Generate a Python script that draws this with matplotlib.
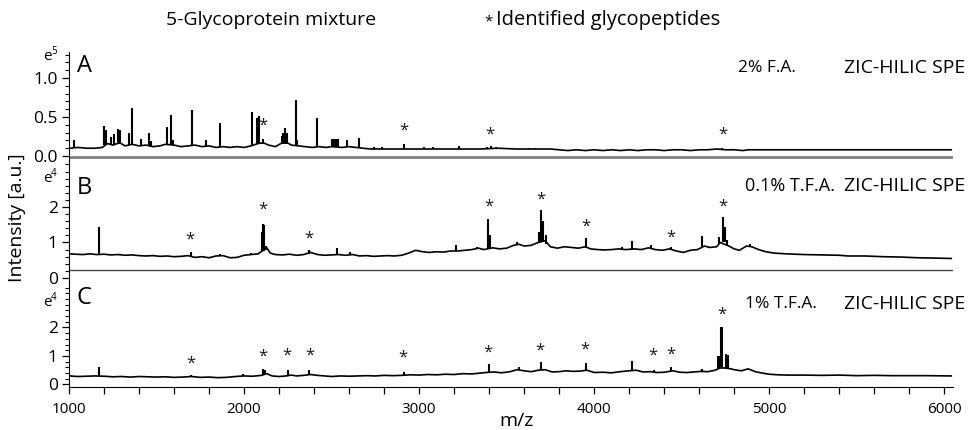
import numpy as np
import matplotlib
matplotlib.use("Agg")
import matplotlib.pyplot as plt
from matplotlib.ticker import MultipleLocator, FixedLocator

plt.rcParams['font.family'] = ['Open Sans', 'DejaVu Sans']

# ---- panel A : 2% F.A. (x1e5) ----
base_a = [(1005, 0.10), (1050, 0.11), (1100, 0.10), (1150, 0.10), (1190, 0.11), (1220, 0.16),
          (1250, 0.14), (1290, 0.17), (1320, 0.13), (1360, 0.15), (1400, 0.13), (1440, 0.14),
          (1480, 0.12), (1520, 0.13), (1550, 0.15), (1600, 0.14), (1640, 0.12), (1680, 0.13),
          (1720, 0.14), (1760, 0.12), (1800, 0.13), (1840, 0.11), (1880, 0.12), (1920, 0.11),
          (1960, 0.12), (2000, 0.11), (2040, 0.13), (2080, 0.16), (2110, 0.17), (2140, 0.14),
          (2180, 0.12), (2210, 0.16), (2240, 0.18), (2270, 0.14), (2310, 0.13), (2350, 0.12),
          (2390, 0.11), (2430, 0.12), (2470, 0.11), (2500, 0.12), (2560, 0.11), (2600, 0.12),
          (2640, 0.11), (2680, 0.10), (2720, 0.09), (2800, 0.09), (2900, 0.09), (2950, 0.09),
          (3050, 0.09), (3150, 0.09), (3250, 0.09), (3350, 0.09), (3450, 0.10), (3550, 0.09),
          (3650, 0.09), (3750, 0.09), (3800, 0.08), (3850, 0.07), (3900, 0.08), (3950, 0.07),
          (4000, 0.08), (4050, 0.07), (4100, 0.08), (4150, 0.07), (4200, 0.08), (4250, 0.07),
          (4300, 0.08), (4350, 0.08), (4400, 0.07), (4450, 0.08), (4500, 0.08), (4550, 0.07),
          (4600, 0.08), (4650, 0.08), (4700, 0.09), (4750, 0.08), (4800, 0.08), (4850, 0.07),
          (4880, 0.08), (4900, 0.08), (5500, 0.08), (6040, 0.08)]
peaks_a = [(1030, 0.10, 0.21), (1200, 0.14, 0.38), (1210, 0.14, 0.33), (1240, 0.14, 0.25),
           (1255, 0.14, 0.28), (1280, 0.15, 0.35), (1290, 0.15, 0.33), (1345, 0.14, 0.30),
           (1360, 0.14, 0.61), (1410, 0.13, 0.22), (1455, 0.13, 0.29), (1470, 0.13, 0.19),
           (1560, 0.14, 0.37), (1580, 0.14, 0.53), (1595, 0.14, 0.20), (1700, 0.13, 0.59),
           (1780, 0.12, 0.21), (1860, 0.12, 0.42), (2045, 0.13, 0.57), (2075, 0.15, 0.49),
           (2085, 0.15, 0.51), (2110, 0.16, 0.22), (2215, 0.15, 0.26), (2225, 0.16, 0.30),
           (2235, 0.16, 0.36), (2245, 0.16, 0.30), (2295, 0.14, 0.72), (2305, 0.14, 0.20),
           (2415, 0.12, 0.49), (2505, 0.11, 0.22), (2515, 0.11, 0.22), (2525, 0.11, 0.22),
           (2535, 0.11, 0.22), (2590, 0.11, 0.21), (2655, 0.11, 0.23), (2740, 0.09, 0.11),
           (2790, 0.09, 0.11), (2915, 0.09, 0.16), (3030, 0.09, 0.11), (3080, 0.09, 0.12),
           (3230, 0.09, 0.13), (3390, 0.09, 0.12), (3410, 0.09, 0.13), (3440, 0.09, 0.11),
           (3630, 0.09, 0.10), (3660, 0.09, 0.10), (4730, 0.08, 0.10)]
stars_a = [(2110, 0.39), (2912, 0.32), (3402, 0.27), (4735, 0.28)]

# ---- panel B : 0.1% T.F.A. (x1e4) ----
base_b = [(1005, 0.68), (1040, 0.67), (1080, 0.66), (1120, 0.68), (1160, 0.66), (1200, 0.67),
          (1240, 0.65), (1280, 0.66), (1320, 0.64), (1360, 0.65), (1400, 0.63), (1440, 0.62),
          (1480, 0.63), (1520, 0.61), (1560, 0.62), (1600, 0.60), (1640, 0.61), (1680, 0.63),
          (1720, 0.58), (1760, 0.60), (1800, 0.57), (1840, 0.62), (1880, 0.63), (1920, 0.57),
          (1960, 0.58), (2000, 0.64), (2040, 0.66), (2080, 0.68), (2100, 0.75), (2130, 0.85),
          (2150, 0.70), (2180, 0.66), (2220, 0.65), (2260, 0.67), (2300, 0.64), (2340, 0.66),
          (2380, 0.72), (2420, 0.66), (2460, 0.64), (2500, 0.65), (2540, 0.66), (2580, 0.64),
          (2620, 0.66), (2660, 0.62), (2700, 0.63), (2740, 0.61), (2780, 0.62), (2820, 0.63),
          (2860, 0.62), (2900, 0.64), (2940, 0.70), (2980, 0.78), (3020, 0.74), (3060, 0.72),
          (3100, 0.74), (3140, 0.73), (3180, 0.76), (3220, 0.76), (3260, 0.78), (3300, 0.80),
          (3340, 0.84), (3370, 0.80), (3420, 0.85), (3460, 0.82), (3500, 0.84), (3540, 0.92),
          (3570, 0.95), (3600, 0.90), (3640, 0.92), (3680, 1.00), (3720, 1.05), (3750, 0.88),
          (3790, 0.84), (3830, 0.88), (3870, 0.86), (3910, 0.84), (3950, 0.88), (3980, 0.82),
          (4020, 0.80), (4060, 0.79), (4100, 0.80), (4140, 0.82), (4180, 0.80), (4230, 0.82),
          (4270, 0.80), (4310, 0.85), (4350, 0.80), (4390, 0.78), (4430, 0.82), (4470, 0.76),
          (4510, 0.72), (4550, 0.78), (4590, 0.80), (4630, 0.90), (4660, 0.86), (4700, 0.88),
          (4720, 1.00), (4770, 0.90), (4800, 0.82), (4830, 0.78), (4870, 0.90), (4900, 0.88),
          (4940, 0.80), (4980, 0.74), (5030, 0.70), (5100, 0.68), (5200, 0.66), (5300, 0.65),
          (5400, 0.64), (5450, 0.62), (5550, 0.62), (5650, 0.60), (5750, 0.59), (5850, 0.57),
          (5950, 0.56), (6040, 0.55)]
peaks_b = [(1170, 0.67, 1.45), (1695, 0.62, 0.72), (1860, 0.62, 0.68), (2040, 0.66, 0.70),
           (2105, 0.72, 1.30), (2110, 0.75, 1.52), (2115, 0.75, 1.50), (2125, 0.80, 0.90),
           (2370, 0.68, 0.80), (2530, 0.65, 0.84), (2605, 0.64, 0.72), (3210, 0.76, 0.92),
           (3330, 0.82, 0.88), (3395, 0.84, 1.66), (3405, 0.84, 1.20), (3560, 0.92, 1.00),
           (3685, 0.98, 1.30), (3695, 1.00, 1.92), (3705, 1.00, 1.60), (3725, 0.95, 1.20),
           (3955, 0.85, 1.12), (4160, 0.80, 0.86), (4215, 0.80, 1.04), (4325, 0.82, 0.92),
           (4440, 0.80, 0.88), (4615, 0.88, 1.18), (4715, 0.95, 1.15), (4735, 1.00, 1.72),
           (4745, 1.00, 1.45), (4760, 0.92, 1.07), (4890, 0.88, 0.95), (5395, 0.63, 0.66)]
stars_b = [(1691, 1.07), (2109, 1.92), (2371, 1.10), (3400, 2.00), (3697, 2.20),
           (3954, 1.44), (4440, 1.15), (4737, 2.00)]

# ---- panel C : 1% T.F.A. (x1e4) ----
base_c = [(1005, 0.30), (1050, 0.28), (1100, 0.29), (1150, 0.30), (1200, 0.29), (1250, 0.27),
          (1300, 0.28), (1350, 0.26), (1400, 0.28), (1450, 0.27), (1500, 0.26), (1550, 0.27),
          (1600, 0.25), (1650, 0.26), (1700, 0.28), (1750, 0.25), (1800, 0.26), (1850, 0.24),
          (1900, 0.25), (1950, 0.28), (2000, 0.30), (2050, 0.29), (2100, 0.32), (2130, 0.38),
          (2160, 0.30), (2200, 0.28), (2240, 0.30), (2270, 0.33), (2300, 0.30), (2340, 0.32),
          (2380, 0.35), (2420, 0.32), (2460, 0.30), (2500, 0.28), (2550, 0.30), (2600, 0.29),
          (2650, 0.30), (2700, 0.31), (2750, 0.30), (2800, 0.32), (2850, 0.31), (2900, 0.32),
          (2950, 0.34), (3000, 0.33), (3050, 0.35), (3100, 0.34), (3150, 0.36), (3200, 0.35),
          (3250, 0.38), (3300, 0.37), (3350, 0.40), (3380, 0.42), (3430, 0.44), (3470, 0.41),
          (3520, 0.45), (3560, 0.52), (3600, 0.48), (3640, 0.45), (3680, 0.50), (3720, 0.52),
          (3760, 0.44), (3800, 0.45), (3840, 0.48), (3880, 0.46), (3920, 0.47), (3960, 0.50),
          (4000, 0.42), (4050, 0.43), (4100, 0.41), (4150, 0.45), (4200, 0.48), (4240, 0.50),
          (4280, 0.44), (4320, 0.45), (4360, 0.42), (4400, 0.43), (4450, 0.48), (4490, 0.43),
          (4530, 0.42), (4570, 0.44), (4610, 0.46), (4650, 0.45), (4690, 0.50), (4720, 0.58),
          (4750, 0.58), (4780, 0.55), (4800, 0.52), (4840, 0.48), (4880, 0.55), (4920, 0.45),
          (4960, 0.40), (5000, 0.36), (5050, 0.34), (5100, 0.33), (5200, 0.33), (5300, 0.32),
          (5400, 0.33), (5500, 0.31), (5600, 0.32), (5700, 0.31), (5800, 0.31), (5900, 0.31),
          (6040, 0.30)]
peaks_c = [(1170, 0.30, 0.60), (1695, 0.27, 0.34), (1995, 0.29, 0.36), (2110, 0.32, 0.55),
           (2118, 0.32, 0.50), (2250, 0.30, 0.50), (2370, 0.33, 0.52), (2810, 0.31, 0.35),
           (2915, 0.32, 0.45), (3400, 0.42, 0.72), (3570, 0.50, 0.62), (3695, 0.50, 0.79),
           (3955, 0.48, 0.76), (4215, 0.48, 0.82), (4340, 0.44, 0.50), (4440, 0.46, 0.62),
           (4615, 0.46, 0.55), (4705, 0.55, 1.00), (4712, 0.55, 1.00), (4725, 0.60, 2.02),
           (4730, 0.60, 2.00), (4755, 0.55, 1.07), (4762, 0.55, 1.05), (4880, 0.50, 0.56)]
stars_c = [(1697, 0.72), (2109, 0.96), (2245, 1.00), (2377, 1.00), (2909, 0.93), (3394, 1.10),
           (3691, 1.18), (3949, 1.21), (4337, 1.00), (4440, 1.04), (4731, 2.44)]

W, H = 970, 430
fig = plt.figure(figsize=(9.7, 4.3), dpi=100)


def px(x, y):
    return x / W, 1 - y / H


left, width = 69 / W, 884 / W
ax_a = fig.add_axes([left, 1 - 160 / H, width, 108 / H])
ax_b = fig.add_axes([left, 1 - 282 / H, width, 122 / H])
ax_c = fig.add_axes([left, 1 - 387 / H, width, 105 / H])

panels = [
    (ax_a, base_a, peaks_a, stars_a, (-0.051, 1.333), [0, 0.5, 1.0], 0.1),
    (ax_b, base_b, peaks_b, stars_b, (-0.113, 3.324), [0, 1, 2], 0.2),
    (ax_c, base_c, peaks_c, stars_c, (-0.088, 3.596), [0, 1, 2], 0.2),
]

for ax, base, peaks, stars, ylim, major, minor in panels:
    ax.patch.set_alpha(0)
    bx, by = np.array(base).T
    ax.plot(bx, by, color='black', lw=1.2)
    pk = np.array(peaks)
    ax.vlines(pk[:, 0], pk[:, 1], pk[:, 2], color='black', lw=1.5)
    for sx, sy in stars:
        ax.text(sx, sy, '*', ha='center', va='center', fontsize=12, color='#1a1a1a')
    ax.set_xlim(1000, 6050)
    ax.set_ylim(*ylim)
    for s in ['top', 'right']:
        ax.spines[s].set_visible(False)
    ax.yaxis.set_major_locator(FixedLocator(major))
    ax.yaxis.set_minor_locator(MultipleLocator(minor))
    ax.tick_params(axis='y', which='major', direction='out', length=5, width=0.9, labelsize=12.5, pad=3)
    ax.tick_params(axis='y', which='minor', direction='out', length=3, width=0.8)

ax_a.yaxis.set_major_formatter(plt.FormatStrFormatter('%.1f'))
ax_b.yaxis.set_major_formatter(plt.FormatStrFormatter('%d'))
ax_c.yaxis.set_major_formatter(plt.FormatStrFormatter('%d'))

for ax in (ax_a, ax_b):
    ax.spines['bottom'].set_visible(False)
    ax.set_xticks([])

ax_a.axhline(-0.013, color='#808080', lw=2)
ax_b.axhline(0.225, color='#444444', lw=1)

ax_c.xaxis.set_major_locator(MultipleLocator(1000))
ax_c.xaxis.set_minor_locator(MultipleLocator(200))
ax_c.tick_params(axis='x', which='both', direction='out', length=5, width=0.9, labelsize=11, pad=6)

# labels
fig.text(*px(271, 20), '5-Glycoprotein mixture', ha='center', va='center', fontsize=14)
fig.text(*px(489, 22), '*', ha='center', va='center', fontsize=11)
fig.text(*px(496, 20), 'Identified glycopeptides', ha='left', va='center', fontsize=14.5)
fig.text(*px(17, 218), 'Intensity [a.u.]', ha='center', va='center', rotation=90, fontsize=14)
fig.text(*px(517, 421), 'm/z', ha='center', va='center', fontsize=14)

for lab, y, ey, exp in [('A', 66, 57, '5'), ('B', 188, 178, '4'), ('C', 298, 303, '4')]:
    fig.text(*px(77, y), lab, ha='left', va='center', fontsize=17)
    fig.text(*px(47, ey), 'e', ha='center', va='center', fontsize=11)
    fig.text(*px(54, ey - 5), exp, ha='center', va='center', fontsize=7)

fig.text(*px(738, 68), '2% F.A.', ha='left', va='center', fontsize=12.5)
fig.text(*px(965, 68), 'ZIC-HILIC SPE', ha='right', va='center', fontsize=14)
fig.text(*px(745, 186), '0.1% T.F.A.', ha='left', va='center', fontsize=13)
fig.text(*px(965, 186), 'ZIC-HILIC SPE', ha='right', va='center', fontsize=14)
fig.text(*px(745, 304), '1% T.F.A.', ha='left', va='center', fontsize=12.5)
fig.text(*px(965, 304), 'ZIC-HILIC SPE', ha='right', va='center', fontsize=14)

fig.savefig('out.png', dpi=100)
